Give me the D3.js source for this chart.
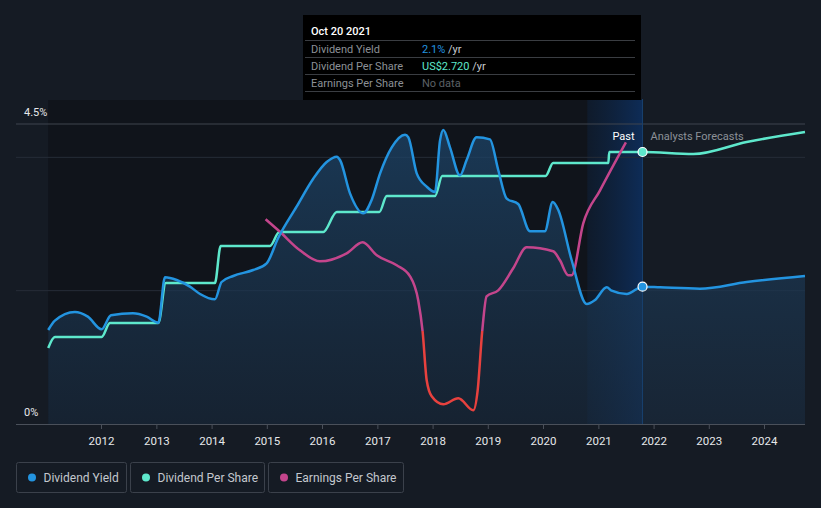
<!DOCTYPE html>
<html><head><meta charset="utf-8">
<script src="https://cdn.jsdelivr.net/npm/d3@7"></script>
<style>
html,body{margin:0;padding:0;background:#151b24;}
svg{display:block;font-family:Roboto,"Noto Sans",sans-serif;}
</style></head>
<body><svg id="chart" width="821" height="508"></svg>
<script>
// ---- data ----
const yieldDates = ["2011-01-17","2011-03-02","2011-07-12","2011-10-06","2012-01-05","2012-03-07","2012-07-30","2012-10-29","2013-01-14","2013-02-27","2013-05-15","2013-08-11","2013-10-17","2014-01-23","2014-03-08","2014-05-24","2014-10-03","2014-12-31","2015-03-17","2015-07-17","2015-11-04","2016-02-01","2016-04-08","2016-04-29","2016-07-04","2016-09-30","2016-11-24","2017-01-19","2017-04-06","2017-07-03","2017-07-25","2017-09-18","2017-11-23","2018-01-17","2018-02-19","2018-03-13","2018-04-26","2018-07-01","2018-08-14","2018-10-19","2019-01-15","2019-03-11","2019-05-06","2019-07-21","2019-10-07","2020-01-13","2020-03-05","2020-04-11","2020-07-08","2020-10-16","2020-12-10","2021-02-25","2021-03-30","2021-07-07","2021-10-20","2022-02-14","2022-11-03","2023-09-08","2024-09-28"];
const yieldValues = [1.41,1.55,1.68,1.61,1.42,1.63,1.66,1.61,1.52,2.20,2.16,2.06,1.95,1.87,2.13,2.22,2.31,2.41,2.79,3.26,3.68,3.93,4.01,3.96,3.46,3.16,3.36,3.76,4.15,4.34,4.30,3.76,3.56,3.48,4.25,4.41,4.15,3.73,3.96,4.30,4.27,3.81,3.38,3.30,2.89,2.89,3.33,3.21,2.46,1.80,1.86,2.05,2.00,1.95,2.06,2.05,2.03,2.13,2.22];

const dpsDates = ["2011-01-17","2011-03-02","2012-01-05","2012-02-29","2013-01-14","2013-03-04","2014-01-23","2014-03-02","2015-01-22","2015-03-25","2016-01-09","2016-04-08","2017-01-14","2017-03-04","2018-01-17","2018-03-06","2020-01-18","2020-03-08","2021-03-08","2021-03-14","2021-10-20","2022-09-21","2023-09-08","2024-09-28"];
const dpsValues = [0.76,0.87,0.87,1.01,1.01,1.41,1.41,1.78,1.78,1.92,1.92,2.12,2.12,2.28,2.28,2.48,2.48,2.61,2.61,2.72,2.72,2.70,2.82,2.92];

const epsDates = ["2014-12-24","2015-03-25","2015-08-08","2015-12-18","2016-06-12","2016-09-26","2016-12-28","2017-05-09","2017-08-05","2017-09-28","2017-10-27","2017-11-23","2017-12-26","2018-03-13","2018-06-20","2018-09-27","2018-10-26","2018-11-25","2018-12-24","2019-03-11","2019-06-18","2019-09-15","2020-03-08","2020-04-22","2020-06-16","2020-07-08","2020-09-23","2021-01-12","2021-07-02"];
const epsValues = [1.12,1.00,0.81,0.70,0.78,0.89,0.76,0.66,0.55,0.31,0.00,-0.49,-0.65,-0.73,-0.67,-0.79,-0.59,0.00,0.35,0.41,0.63,0.84,0.80,0.71,0.56,0.56,1.08,1.41,1.89];

const yearTicks = [2012,2013,2014,2015,2016,2017,2018,2019,2020,2021,2022,2023,2024];
const yTickLabels = ["0%","4.5%"];
const gridValues = [2,4,4.5];
const tooltipDate = "2021-10-20";
const tooltipRows = [["Dividend Yield","2.1%"," /yr"],["Dividend Per Share","US$2.720"," /yr"],["Earnings Per Share","No data",""]];
const legendItems = ["Dividend Yield","Dividend Per Share","Earnings Per Share"];
const pastStart = "2020-10-20";

// ---- setup ----
const parse = d3.timeParse("%Y-%m-%d");
const C = {yield:"#2394e0", dps:"#5ee8cc", eps:"#c4458c", neg:"#e8413e"};
const svg = d3.select("#chart");
const L = 16, R = 805, B = 424;
const x = d3.scaleTime().domain([parse("2010-06-18"), parse("2024-09-28")]).range([L, R]);
const y = d3.scaleLinear().domain([0, 4.5]).range([B, 124]);
const yDps = d3.scaleLinear().domain([0, 3]).range([B, 124]);
const yEps = d3.scaleLinear().domain([-1, 2]).range([431.3, 131.3]);

const yieldData = yieldDates.map((d,i)=>({d:parse(d), v:yieldValues[i]}));
const dpsData = dpsDates.map((d,i)=>({d:parse(d), v:dpsValues[i]}));
const epsData = epsDates.map((d,i)=>({d:parse(d), v:epsValues[i]}));
const tDate = parse(tooltipDate);
const tx = x(tDate);

const defs = svg.append("defs");
const ag = defs.append("linearGradient").attr("id","areaGrad").attr("x1",0).attr("x2",0).attr("y1",0).attr("y2",1);
ag.append("stop").attr("offset","0%").attr("stop-color","#1d4468").attr("stop-opacity",0.75);
ag.append("stop").attr("offset","100%").attr("stop-color","#1a2c40").attr("stop-opacity",0.6);
const bg = defs.append("linearGradient").attr("id","bandGrad").attr("x1",0).attr("x2",1).attr("y1",0).attr("y2",0);
bg.append("stop").attr("offset","0%").attr("stop-color","#0d2a50").attr("stop-opacity",0.3);
bg.append("stop").attr("offset","100%").attr("stop-color","#0d3266").attr("stop-opacity",0.8);
const eg = defs.append("linearGradient").attr("id","epsGrad").attr("gradientUnits","userSpaceOnUse")
  .attr("x1",0).attr("x2",0).attr("y1",yEps(0)-0.01).attr("y2",yEps(0)+0.01);
eg.append("stop").attr("offset","0%").attr("stop-color",C.eps);
eg.append("stop").attr("offset","50%").attr("stop-color",C.eps);
eg.append("stop").attr("offset","50%").attr("stop-color",C.neg);
eg.append("stop").attr("offset","100%").attr("stop-color",C.neg);

// past dark background
svg.append("rect").attr("x", x(yieldData[0].d)).attr("y",100).attr("width", tx - x(yieldData[0].d)).attr("height", B-100).attr("fill","#10141b");
// last-year band
svg.append("rect").attr("x", x(parse(pastStart))).attr("y",100).attr("width", tx - x(parse(pastStart))).attr("height", B-100).attr("fill","url(#bandGrad)");

// grid
svg.append("g").selectAll("line").data(gridValues).join("line")
  .attr("x1",L).attr("x2",R).attr("y1",d=>y(d)).attr("y2",d=>y(d))
  .attr("stroke",d=>d===4.5?"#3e444e":"#262d38").attr("stroke-width",1);

// yield area
const curve = d3.curveMonotoneX;
svg.append("path").datum(yieldData)
  .attr("d", d3.area().x(d=>x(d.d)).y0(B).y1(d=>y(d.v)).curve(curve))
  .attr("fill","url(#areaGrad)");

// vertical tooltip line
svg.append("line").attr("x1",tx).attr("x2",tx).attr("y1",99).attr("y2",B).attr("stroke","#18406e").attr("stroke-width",1);

// axis
const xAxis = d3.axisBottom(x).tickValues(yearTicks.map(yr=>new Date(yr,0,1))).tickFormat(d3.timeFormat("%Y")).tickSize(5).tickPadding(8);
const ax = svg.append("g").attr("transform",`translate(0,${B})`).call(xAxis);
ax.select(".domain").attr("stroke","#4a505a").attr("d",`M${L},0.5H${R}`);
ax.selectAll(".tick line").attr("stroke","#4a505a");
ax.selectAll(".tick text").attr("fill","#e6e8ea").attr("font-size",11.5).attr("font-family","Roboto,sans-serif");

// y labels
svg.append("g").selectAll("text").data(yTickLabels).join("text")
  .attr("x",24).attr("y",(d,i)=>i===0?416:116).text(d=>d)
  .attr("fill","#e6e8ea").attr("font-size",11);

// lines
svg.append("path").datum(dpsData)
  .attr("d", d3.line().x(d=>x(d.d)).y(d=>yDps(d.v)).curve(curve))
  .attr("fill","none").attr("stroke",C.dps).attr("stroke-width",2.5);
svg.append("path").datum(epsData)
  .attr("d", d3.line().x(d=>x(d.d)).y(d=>yEps(d.v)).curve(curve))
  .attr("fill","none").attr("stroke","url(#epsGrad)").attr("stroke-width",2.5);
svg.append("path").datum(yieldData)
  .attr("d", d3.line().x(d=>x(d.d)).y(d=>y(d.v)).curve(curve))
  .attr("fill","none").attr("stroke",C.yield).attr("stroke-width",2.5);

// markers
const dpsAtT = dpsData.find(d=>+d.d===+tDate).v;
const yAtT = yieldData.find(d=>+d.d===+tDate).v;
svg.append("circle").attr("cx",tx).attr("cy",yDps(dpsAtT)).attr("r",4.5).attr("fill",C.dps).attr("stroke","#fff").attr("stroke-width",1.2);
svg.append("circle").attr("cx",tx).attr("cy",y(yAtT)).attr("r",4.5).attr("fill",C.yield).attr("stroke","#fff").attr("stroke-width",1.2);

// past / forecast labels
svg.append("text").attr("x",tx-8).attr("y",140).attr("text-anchor","end").attr("fill","#ffffff").attr("font-size",11).text("Past");
svg.append("text").attr("x",tx+8).attr("y",140).attr("fill","#8c9198").attr("font-size",11).text("Analysts Forecasts");

// tooltip
const tt = svg.append("g");
tt.append("rect").attr("x",303).attr("y",15).attr("width",338).attr("height",85).attr("fill","#000000");
tt.append("text").attr("x",311).attr("y",35).attr("fill","#ffffff").attr("font-size",11).attr("font-weight",500).text(d3.timeFormat("%b %d %Y")(tDate));
[40.5,57.5,74.5,91.5].forEach(ly=>tt.append("line").attr("x1",305).attr("x2",635).attr("y1",ly).attr("y2",ly).attr("stroke","#3a3d42").attr("stroke-width",1));
const valColors = [C.yield, C.dps, "#5c6066"];
tooltipRows.forEach((r,i)=>{
  const by = 52.5 + i*17;
  tt.append("text").attr("x",311).attr("y",by).attr("fill","#8c9096").attr("font-size",11).text(r[0]);
  const t = tt.append("text").attr("x",422).attr("y",by).attr("font-size",11);
  t.append("tspan").attr("fill",valColors[i]).text(r[1]);
  t.append("tspan").attr("fill","#c8ccd0").text(r[2]);
});

// legend
const lg = svg.append("g");
const lColors = [C.yield, C.dps, C.eps];
const lX = [16.5, 130.5, 268.5], lW = [110, 134, 135];
legendItems.forEach((name,i)=>{
  const g = lg.append("g").attr("transform",`translate(${lX[i]},462.5)`);
  g.append("rect").attr("width",lW[i]).attr("height",30).attr("rx",2).attr("fill","none").attr("stroke","#3b414b");
  g.append("circle").attr("cx",15.5).attr("cy",15).attr("r",4).attr("fill",lColors[i]);
  g.append("text").attr("x",27).attr("y",19).attr("fill","#c4c8ce").attr("font-size",12).text(name);
});
</script></body></html>
